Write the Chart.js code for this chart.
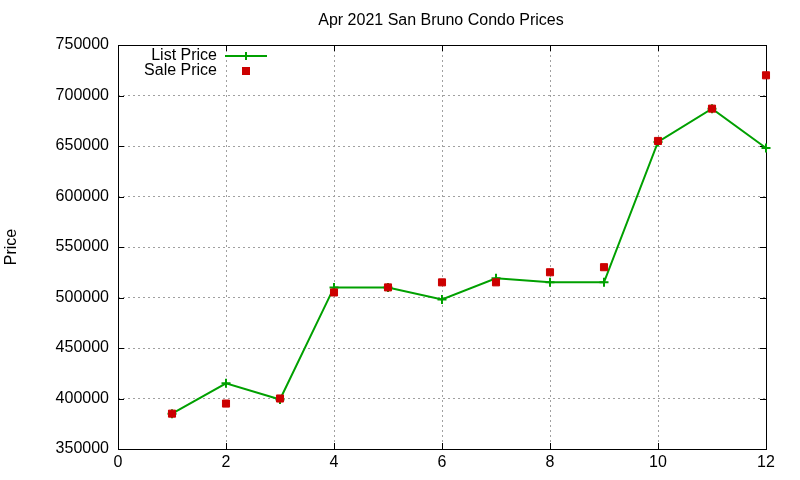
<!DOCTYPE html>
<html>
<head>
<meta charset="utf-8">
<script src="https://cdn.jsdelivr.net/npm/chart.js@4/dist/chart.umd.min.js"></script>
<style>
  html, body { margin: 0; padding: 0; background: #fff; }
  #wrap { width: 800px; height: 480px; position: relative; }
</style>
</head>
<body>
<div id="wrap"><canvas id="c" width="800" height="480"></canvas></div>
<script>
const titleText = "Apr 2021 San Bruno Condo Prices";
const yAxisLabel = "Price";
const seriesNames = ["List Price", "Sale Price"];
const xValues = [1, 2, 3, 4, 5, 6, 7, 8, 9, 10, 11, 12];
const listPrice = [385000, 415000, 399000, 510000, 510000, 498000, 519000, 515000, 515000, 654000, 687000, 648000];
const salePrice = [385000, 395000, 400000, 505000, 510000, 515000, 515000, 525000, 530000, 655000, 687000, 720000];
const xMin = 0, xMax = 12, xStep = 2;
const yMin = 350000, yMax = 750000, yStep = 50000;

const FONT = "'Liberation Sans', Arial, sans-serif";
const GREEN = '#00a000';
const RED = '#cc0000';

const framePlugin = {
  id: 'frame',
  beforeDatasetsDraw(chart) {
    const ctx = chart.ctx, a = chart.chartArea;
    ctx.save();
    ctx.strokeStyle = '#000';
    ctx.lineWidth = 1;
    ctx.setLineDash([]);
    ctx.strokeRect(Math.round(a.left) + 0.5, Math.round(a.top) + 0.5, Math.round(a.right - a.left), Math.round(a.bottom - a.top));
    const tl = 6;
    ctx.beginPath();
    chart.scales.x.ticks.forEach(t => {
      const px = Math.round(chart.scales.x.getPixelForValue(t.value)) + 0.5;
      ctx.moveTo(px, a.bottom); ctx.lineTo(px, a.bottom - tl);
      ctx.moveTo(px, a.top); ctx.lineTo(px, a.top + tl);
    });
    chart.scales.y.ticks.forEach(t => {
      const py = Math.round(chart.scales.y.getPixelForValue(t.value)) + 0.5;
      ctx.moveTo(a.left, py); ctx.lineTo(a.left + tl, py);
      ctx.moveTo(a.right, py); ctx.lineTo(a.right - tl, py);
    });
    ctx.stroke();
    ctx.restore();
  },
  afterDraw(chart) {
    const ctx = chart.ctx;
    ctx.save();
    ctx.fillStyle = '#000';
    ctx.font = '16px ' + FONT;
    ctx.textBaseline = 'middle';
    ctx.textAlign = 'center';
    ctx.fillText(titleText, 441, 21);
    ctx.save();
    ctx.translate(12, 247);
    ctx.rotate(-Math.PI / 2);
    ctx.fillText(yAxisLabel, 0, 0);
    ctx.restore();
    ctx.textAlign = 'right';
    ctx.fillText(seriesNames[0], 217, 56);
    ctx.fillText(seriesNames[1], 217, 71);
    ctx.strokeStyle = GREEN;
    ctx.lineWidth = 2;
    ctx.beginPath();
    ctx.moveTo(225, 56); ctx.lineTo(267, 56);
    ctx.moveTo(246, 52); ctx.lineTo(246, 60);
    ctx.stroke();
    ctx.fillStyle = RED;
    ctx.fillRect(242, 67, 8, 8);
    ctx.restore();
  }
};

new Chart(document.getElementById('c'), {
  type: 'scatter',
  data: {
    datasets: [
      {
        label: seriesNames[0],
        data: xValues.map((x, i) => ({ x, y: listPrice[i] })),
        showLine: true,
        borderColor: GREEN,
        backgroundColor: GREEN,
        borderWidth: 2,
        pointStyle: 'cross',
        pointRadius: 4.5,
        pointBorderWidth: 2,
        pointBorderColor: GREEN,
        pointHoverRadius: 4.5,
        tension: 0,
        clip: false,
        order: 2
      },
      {
        label: seriesNames[1],
        data: xValues.map((x, i) => ({ x, y: salePrice[i] })),
        showLine: false,
        borderColor: RED,
        backgroundColor: RED,
        pointStyle: 'rect',
        pointRadius: 5,
        pointBorderWidth: 1,
        pointBorderColor: RED,
        pointHoverRadius: 5,
        clip: false,
        order: 1
      }
    ]
  },
  options: {
    responsive: false,
    animation: false,
    devicePixelRatio: 1,
    layout: { padding: { top: 45, right: 34, left: 0, bottom: 0 } },
    plugins: {
      legend: { display: false },
      title: { display: false },
      tooltip: { enabled: false }
    },
    scales: {
      x: {
        type: 'linear',
        min: xMin, max: xMax,
        afterFit(s) { s.height = 31; },
        ticks: { stepSize: xStep, color: '#000', font: { family: FONT, size: 16 }, padding: 4, maxRotation: 0 },
        grid: { color: '#a0a0a0', lineWidth: 1, drawTicks: false },
        border: { display: false, dash: [2, 3] }
      },
      y: {
        type: 'linear',
        min: yMin, max: yMax,
        afterFit(s) { s.width = 118; },
        ticks: { stepSize: yStep, color: '#000', font: { family: FONT, size: 16 }, padding: 9, callback: v => String(v) },
        grid: { color: '#a0a0a0', lineWidth: 1, drawTicks: false },
        border: { display: false, dash: [2, 3] }
      }
    }
  },
  plugins: [framePlugin]
});
</script>
</body>
</html>
